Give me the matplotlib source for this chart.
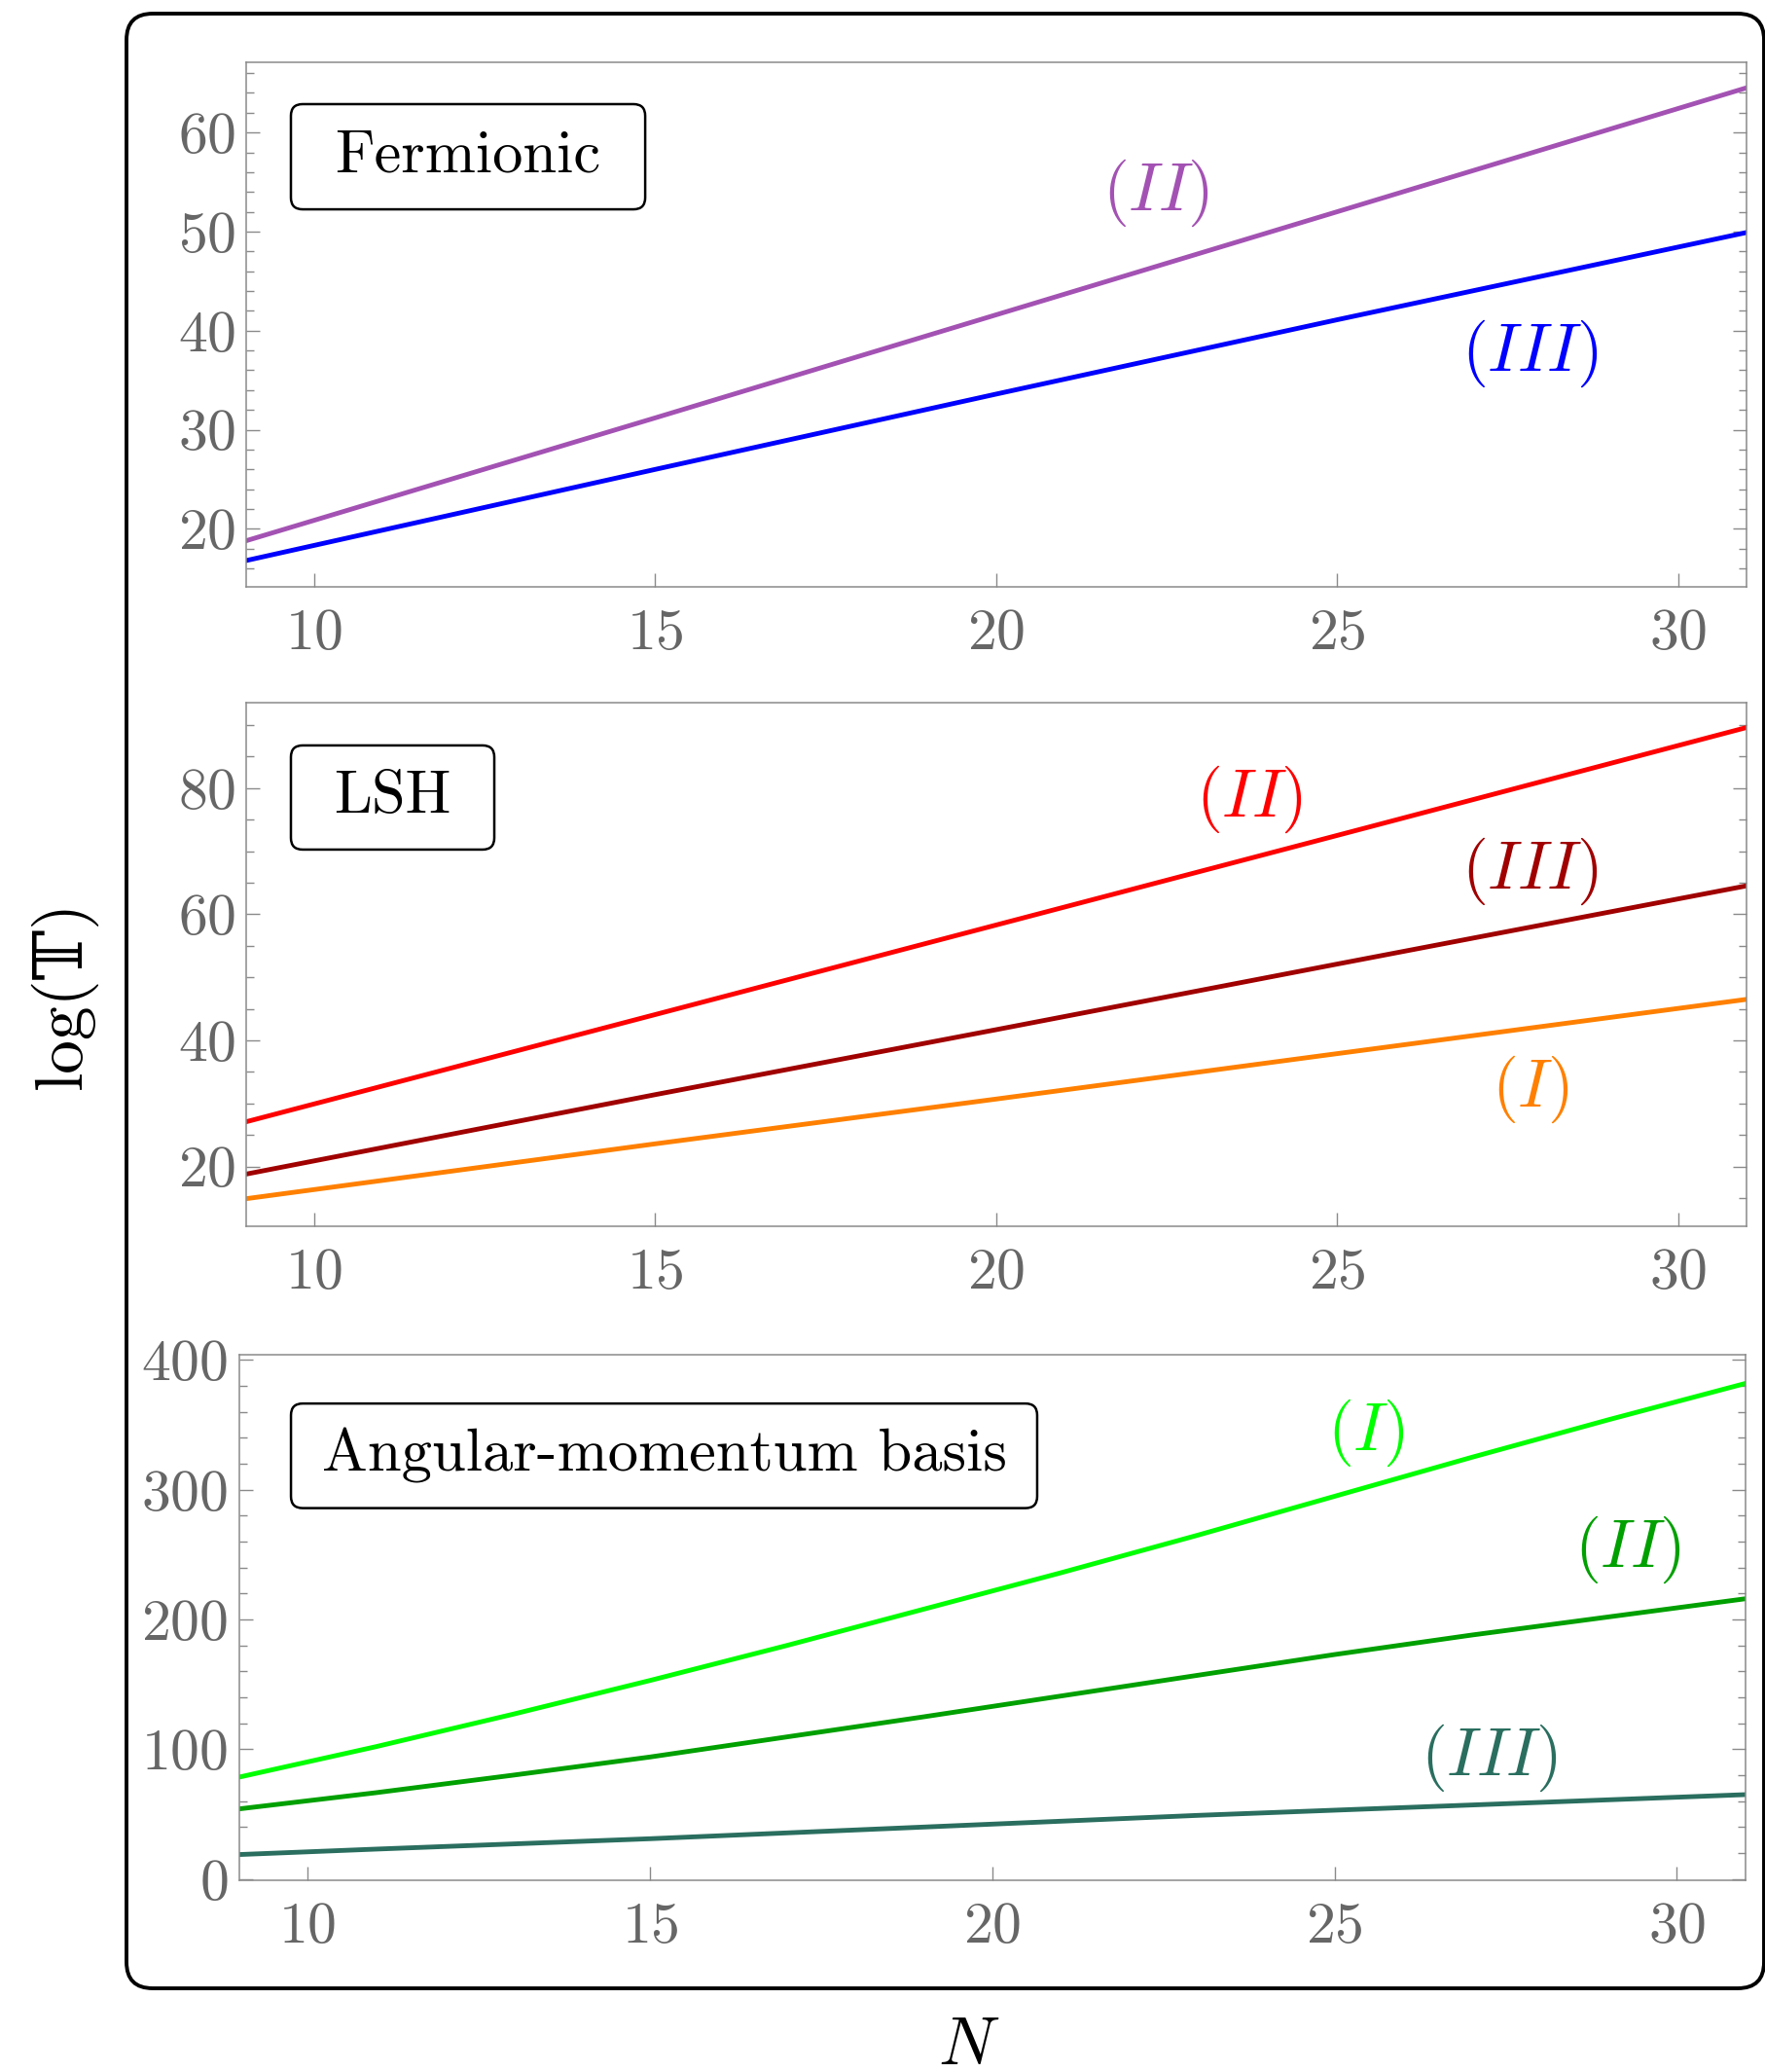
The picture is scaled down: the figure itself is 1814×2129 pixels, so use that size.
import matplotlib
matplotlib.use("Agg")
import matplotlib.pyplot as plt
from matplotlib.patches import FancyBboxPatch
from matplotlib.ticker import MultipleLocator

plt.rcParams['font.family'] = 'serif'
plt.rcParams['font.serif'] = ['cmr10']
plt.rcParams['mathtext.fontset'] = 'cm'
plt.rcParams['axes.formatter.use_mathtext'] = True

# valores
N_lin = [9, 15, 20, 25, 31]
ferm_II = [18.8, 31.2, 41.6, 52.0, 64.5]
ferm_III = [16.8, 26.0, 33.6, 41.1, 49.9]

lsh_II = [27.1, 44.1, 58.3, 72.5, 89.6]
lsh_III = [18.8, 31.4, 41.7, 52.1, 64.5]
lsh_I = [14.9, 23.6, 30.7, 37.9, 46.5]

N_ang = [9, 11, 13, 15, 17, 19, 21, 23, 25, 27, 29, 31]
ang_I = [78.5, 102, 127, 153, 180, 208, 236, 265, 295, 325, 354, 382]
ang_II = [54, 66.5, 80, 94, 109.5, 125, 141, 157, 173, 188, 202, 216]
ang_III = [18.8, 23, 27, 31, 35.5, 40, 44.5, 49, 53, 57, 61, 65]

c_purple = '#A352B3'
c_blue = '#0000FF'
c_red = '#FF0000'
c_dred = '#A00000'
c_orange = '#FF8000'
c_lgreen = '#00FF00'
c_green = '#00A000'
c_teal = '#2A6E5F'

fs = 43      # ticks
fsb = 45     # cajas
fsl = 50     # etiquetas (I), (II), (III)
lw = 3.5
W, H = 18.14, 21.29

fig = plt.figure(figsize=(W, H), dpi=100)

# marco exterior redondeado (en pulgadas)
frame = FancyBboxPatch((1.30, 0.86), 16.83, 20.29,
                       boxstyle="round,pad=0,rounding_size=0.27",
                       transform=fig.dpi_scale_trans, fill=False,
                       edgecolor='black', linewidth=2.8, zorder=0)
fig.patches.append(frame)

ax1 = fig.add_axes([0.1395, 0.7168, 0.8498, 0.2532])
ax2 = fig.add_axes([0.1395, 0.4081, 0.8498, 0.2526])
ax3 = fig.add_axes([0.1355, 0.0923, 0.8534, 0.2538])


def estilo(ax, ylim, major, minor):
    ax.set_xlim(9, 31)
    ax.set_ylim(*ylim)
    ax.xaxis.set_major_locator(MultipleLocator(5))
    ax.yaxis.set_major_locator(MultipleLocator(major))
    ax.yaxis.set_minor_locator(MultipleLocator(minor))
    for s in ax.spines.values():
        s.set_color('#8a8a8a')
        s.set_linewidth(1.1)
    ax.tick_params(axis='y', which='both', direction='in', left=True,
                   right=True, color='#8a8a8a', labelcolor='#666666',
                   labelsize=fs, pad=8, width=1.0)
    ax.tick_params(axis='y', which='major', length=10)
    ax.tick_params(axis='y', which='minor', length=6)
    ax.tick_params(axis='x', which='both', direction='in', bottom=True,
                   top=False, color='#8a8a8a', labelcolor='#666666',
                   labelsize=fs, pad=16, length=10, width=1.0)


def caja(ax, x0, y0, x1, y1, texto):
    # x0..y1 en fraccion de ejes; caja dibujada en pulgadas para esquinas redondas
    bb = ax.get_position()
    px0 = (bb.x0 + x0 * bb.width) * W
    px1 = (bb.x0 + x1 * bb.width) * W
    py0 = (bb.y0 + y0 * bb.height) * H
    py1 = (bb.y0 + y1 * bb.height) * H
    p = FancyBboxPatch((px0, py0), px1 - px0, py1 - py0,
                       boxstyle="round,pad=0,rounding_size=0.12",
                       transform=fig.dpi_scale_trans, fill=True,
                       facecolor='white', edgecolor='black', linewidth=1.8,
                       zorder=5)
    fig.patches.append(p)
    fig.text((px0 + px1) / 2 / W, (py0 + py1) / 2 / H, texto, fontsize=fsb,
             ha='center', va='center', zorder=6)


# Fermionic
ax1.plot(N_lin, ferm_II, color=c_purple, lw=lw)
ax1.plot(N_lin, ferm_III, color=c_blue, lw=lw)
estilo(ax1, (14.15, 67.1), 10, 2)
ax1.text(22.35, 53.9, r'$(II)$', color=c_purple, fontsize=fsl, ha='center', va='center')
ax1.text(27.83, 37.7, r'$(III)$', color=c_blue, fontsize=fsl, ha='center', va='center')
caja(ax1, 0.0298, 0.7195, 0.266, 0.920, 'Fermionic')

# LSH
ax2.plot(N_lin, lsh_II, color=c_red, lw=lw)
ax2.plot(N_lin, lsh_III, color=c_dred, lw=lw)
ax2.plot(N_lin, lsh_I, color=c_orange, lw=lw)
estilo(ax2, (10.5, 93.5), 20, 5)
ax2.text(23.72, 78.3, r'$(II)$', color=c_red, fontsize=fsl, ha='center', va='center')
ax2.text(27.83, 66.8, r'$(III)$', color=c_dred, fontsize=fsl, ha='center', va='center')
ax2.text(27.83, 32.3, r'$(I)$', color=c_orange, fontsize=fsl, ha='center', va='center')
caja(ax2, 0.0298, 0.720, 0.1654, 0.919, 'LSH')

# Angular-momentum basis
ax3.plot(N_ang, ang_I, color=c_lgreen, lw=lw)
ax3.plot(N_ang, ang_II, color=c_green, lw=lw)
ax3.plot(N_ang, ang_III, color=c_teal, lw=lw)
estilo(ax3, (-1.4, 404), 100, 20)
ax3.text(25.45, 344, r'$(I)$', color=c_lgreen, fontsize=fsl, ha='center', va='center')
ax3.text(29.28, 253.5, r'$(II)$', color=c_green, fontsize=fsl, ha='center', va='center')
ax3.text(27.25, 93, r'$(III)$', color=c_teal, fontsize=fsl, ha='center', va='center')
caja(ax3, 0.0344, 0.7086, 0.5298, 0.9075, 'Angular-momentum basis')

fig.text(65 / 1814, 1 - 1022 / 2129, 'log(\U0001D54B)', fontsize=fsl,
         family=['cmr10', 'DejaVu Serif', 'DejaVu Sans'],
         rotation=90, ha='center', va='center')
fig.text(996 / 1814, 1 - 2121 / 2129, r'$N$', fontsize=fsl, ha='center',
         va='baseline')

fig.savefig('out.png', dpi=100)
